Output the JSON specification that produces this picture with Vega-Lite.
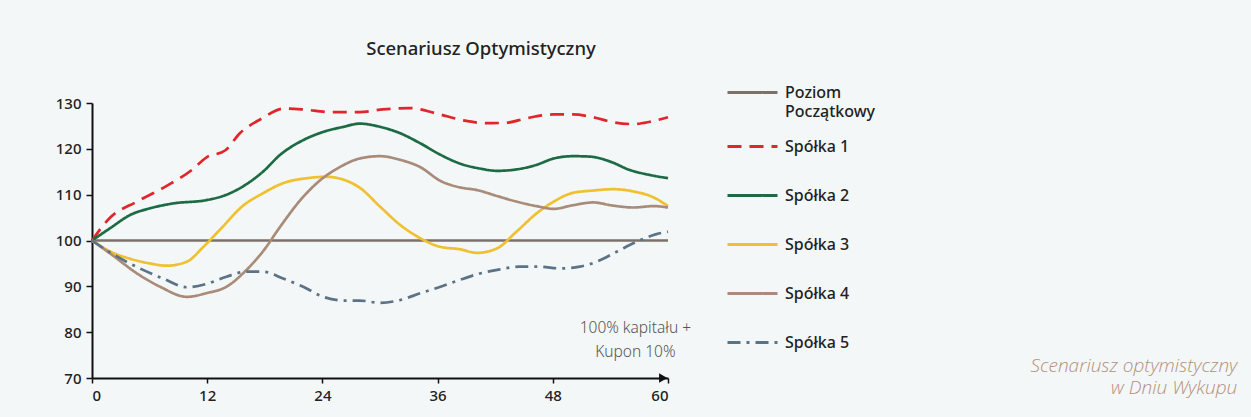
{
  "$schema": "https://vega.github.io/schema/vega-lite/v6.json",
  "width": 576,
  "height": 275,
  "autosize": {"type": "none"},
  "padding": {"left": 92, "top": 103, "right": 583, "bottom": 39},
  "background": "#f3f7f7",
  "config": {"view": {"stroke": null}, "font": "Noto Sans"},
  "title": {"text": "Scenariusz Optymistyczny", "fontSize": 18.5, "fontWeight": 500, "color": "#222", "font": "Noto Sans", "anchor": "middle", "dx": 101, "offset": 8},
  "datasets": {
    "series": [
      {"s":"Poziom Początkowy","m":0,"v":100},{"s":"Poziom Początkowy","m":60,"v":100},
      {"s":"Spółka 1","m":0,"v":100},{"s":"Spółka 1","m":1.9,"v":105},{"s":"Spółka 1","m":4.7,"v":108.5},{"s":"Spółka 1","m":7.6,"v":111.7},{"s":"Spółka 1","m":10.4,"v":115.4},{"s":"Spółka 1","m":11.9,"v":118.1},{"s":"Spółka 1","m":13.9,"v":119.7},{"s":"Spółka 1","m":15.4,"v":123.4},{"s":"Spółka 1","m":17.5,"v":126.4},{"s":"Spółka 1","m":20.1,"v":128.8},{"s":"Spółka 1","m":22,"v":128.6},{"s":"Spółka 1","m":24.8,"v":128},{"s":"Spółka 1","m":27.9,"v":128},{"s":"Spółka 1","m":30.3,"v":128.6},{"s":"Spółka 1","m":33.1,"v":128.9},{"s":"Spółka 1","m":35.9,"v":127.7},{"s":"Spółka 1","m":38.7,"v":126.2},{"s":"Spółka 1","m":41.1,"v":125.6},{"s":"Spółka 1","m":43.2,"v":125.7},{"s":"Spółka 1","m":45.3,"v":126.7},{"s":"Spółka 1","m":48.1,"v":127.5},{"s":"Spółka 1","m":50.1,"v":127.5},{"s":"Spółka 1","m":52.2,"v":126.9},{"s":"Spółka 1","m":54.3,"v":125.8},{"s":"Spółka 1","m":56.4,"v":125.4},{"s":"Spółka 1","m":58.1,"v":125.9},{"s":"Spółka 1","m":60,"v":126.9},
      {"s":"Spółka 2","m":0,"v":100},{"s":"Spółka 2","m":1.9,"v":102.7},{"s":"Spółka 2","m":4,"v":105.6},{"s":"Spółka 2","m":6,"v":107},{"s":"Spółka 2","m":8.5,"v":108.1},{"s":"Spółka 2","m":11.9,"v":108.8},{"s":"Spółka 2","m":13.9,"v":109.9},{"s":"Spółka 2","m":15.8,"v":111.9},{"s":"Spółka 2","m":17.8,"v":115},{"s":"Spółka 2","m":19.6,"v":118.7},{"s":"Spółka 2","m":22,"v":121.9},{"s":"Spółka 2","m":24.1,"v":123.7},{"s":"Spółka 2","m":26.2,"v":124.8},{"s":"Spółka 2","m":27.9,"v":125.5},{"s":"Spółka 2","m":30,"v":124.8},{"s":"Spółka 2","m":32.1,"v":123.4},{"s":"Spółka 2","m":34.2,"v":121.2},{"s":"Spółka 2","m":36.3,"v":118.7},{"s":"Spółka 2","m":38.3,"v":116.8},{"s":"Spółka 2","m":40.4,"v":115.7},{"s":"Spółka 2","m":42.2,"v":115.2},{"s":"Spółka 2","m":44.2,"v":115.5},{"s":"Spółka 2","m":46.3,"v":116.5},{"s":"Spółka 2","m":48.1,"v":117.9},{"s":"Spółka 2","m":50.1,"v":118.4},{"s":"Spółka 2","m":51.9,"v":118.3},{"s":"Spółka 2","m":54,"v":117.2},{"s":"Spółka 2","m":56,"v":115.4},{"s":"Spółka 2","m":58.1,"v":114.3},{"s":"Spółka 2","m":60,"v":113.6},
      {"s":"Spółka 3","m":0,"v":100},{"s":"Spółka 3","m":1.9,"v":97.6},{"s":"Spółka 3","m":4,"v":96},{"s":"Spółka 3","m":6,"v":95},{"s":"Spółka 3","m":7.8,"v":94.5},{"s":"Spółka 3","m":9.9,"v":95.4},{"s":"Spółka 3","m":11.6,"v":98.6},{"s":"Spółka 3","m":13.3,"v":102.3},{"s":"Spółka 3","m":15.8,"v":107.7},{"s":"Spółka 3","m":17.8,"v":110.3},{"s":"Spółka 3","m":19.9,"v":112.5},{"s":"Spółka 3","m":22.4,"v":113.6},{"s":"Spółka 3","m":24.4,"v":113.9},{"s":"Spółka 3","m":26,"v":113.4},{"s":"Spółka 3","m":27.9,"v":111.5},{"s":"Spółka 3","m":30,"v":107.4},{"s":"Spółka 3","m":32.1,"v":103.4},{"s":"Spółka 3","m":34.2,"v":100.5},{"s":"Spółka 3","m":36.3,"v":98.6},{"s":"Spółka 3","m":38.3,"v":98.1},{"s":"Spółka 3","m":40.1,"v":97.3},{"s":"Spółka 3","m":42.2,"v":98.3},{"s":"Spółka 3","m":44.2,"v":101.9},{"s":"Spółka 3","m":46.3,"v":105.9},{"s":"Spółka 3","m":48.1,"v":108.5},{"s":"Spółka 3","m":50.1,"v":110.4},{"s":"Spółka 3","m":52.2,"v":110.9},{"s":"Spółka 3","m":54.3,"v":111.2},{"s":"Spółka 3","m":56.4,"v":110.7},{"s":"Spółka 3","m":58.5,"v":109.4},{"s":"Spółka 3","m":60,"v":107.5},
      {"s":"Spółka 4","m":0,"v":100},{"s":"Spółka 4","m":2,"v":97},{"s":"Spółka 4","m":4.7,"v":92.8},{"s":"Spółka 4","m":7.1,"v":89.9},{"s":"Spółka 4","m":9.9,"v":87.7},{"s":"Spółka 4","m":11.9,"v":88.5},{"s":"Spółka 4","m":14,"v":89.9},{"s":"Spółka 4","m":16.1,"v":93.6},{"s":"Spółka 4","m":17.8,"v":97.6},{"s":"Spółka 4","m":19.6,"v":103},{"s":"Spółka 4","m":21.7,"v":108.8},{"s":"Spółka 4","m":23.8,"v":113.2},{"s":"Spółka 4","m":25.8,"v":116},{"s":"Spółka 4","m":27.9,"v":117.9},{"s":"Spółka 4","m":30,"v":118.4},{"s":"Spółka 4","m":32.1,"v":117.6},{"s":"Spółka 4","m":34.2,"v":116},{"s":"Spółka 4","m":36.3,"v":113},{"s":"Spółka 4","m":38.3,"v":111.6},{"s":"Spółka 4","m":40.1,"v":111},{"s":"Spółka 4","m":42.2,"v":109.7},{"s":"Spółka 4","m":44.2,"v":108.5},{"s":"Spółka 4","m":46.3,"v":107.5},{"s":"Spółka 4","m":48.1,"v":106.9},{"s":"Spółka 4","m":50.1,"v":107.7},{"s":"Spółka 4","m":52.2,"v":108.3},{"s":"Spółka 4","m":54.3,"v":107.6},{"s":"Spółka 4","m":56.4,"v":107.2},{"s":"Spółka 4","m":58.5,"v":107.5},{"s":"Spółka 4","m":60,"v":107.2},
      {"s":"Spółka 5","m":0,"v":100},{"s":"Spółka 5","m":2.2,"v":97},{"s":"Spółka 5","m":5,"v":93.9},{"s":"Spółka 5","m":7.4,"v":91.7},{"s":"Spółka 5","m":9.9,"v":89.8},{"s":"Spółka 5","m":11.9,"v":90.5},{"s":"Spółka 5","m":14,"v":92.1},{"s":"Spółka 5","m":16.1,"v":93.2},{"s":"Spółka 5","m":17.8,"v":93.2},{"s":"Spółka 5","m":19.9,"v":91.7},{"s":"Spółka 5","m":22,"v":89.9},{"s":"Spółka 5","m":24.1,"v":87.7},{"s":"Spółka 5","m":26.2,"v":86.9},{"s":"Spółka 5","m":27.9,"v":86.9},{"s":"Spółka 5","m":30,"v":86.4},{"s":"Spółka 5","m":32.1,"v":87},{"s":"Spółka 5","m":34.2,"v":88.5},{"s":"Spółka 5","m":36.3,"v":89.9},{"s":"Spółka 5","m":38.3,"v":91.4},{"s":"Spółka 5","m":40.4,"v":92.8},{"s":"Spółka 5","m":42.5,"v":93.7},{"s":"Spółka 5","m":44.5,"v":94.3},{"s":"Spółka 5","m":46.6,"v":94.3},{"s":"Spółka 5","m":48.8,"v":93.9},{"s":"Spółka 5","m":50.8,"v":94.3},{"s":"Spółka 5","m":52.6,"v":95.4},{"s":"Spółka 5","m":54.7,"v":97.6},{"s":"Spółka 5","m":56.7,"v":99.7},{"s":"Spółka 5","m":58.8,"v":101.4},{"s":"Spółka 5","m":60,"v":101.9}
    ],
    "note": [{"m": 56.6, "v": 80.9, "t": "100% kapitału +\nKupon 10%"}],
    "caption": [{"m": 119.3, "v": 72.6, "t": "Scenariusz optymistyczny\nw Dniu Wykupu"}],
    "arrow": [{"m": 59.5, "v": 70}]
  },
  "layer": [
    {
      "data": {"name": "series"},
      "mark": {"type": "line", "strokeWidth": 2.7, "interpolate": "monotone"},
      "encoding": {
        "x": {"field": "m", "type": "quantitative", "scale": {"domain": [0, 60], "nice": false},
          "axis": {"values": [0, 12, 24, 36, 48, 60], "title": null, "grid": false, "domainColor": "#111", "domainWidth": 2, "tickColor": "#111", "tickWidth": 1.5, "tickSize": 5, "labelFontSize": 15, "labelFontWeight": 500, "labelColor": "#222", "labelPadding": 5, "labelFont": "Noto Sans"}},
        "y": {"field": "v", "type": "quantitative", "scale": {"domain": [70, 130], "nice": false, "zero": false},
          "axis": {"values": [70, 80, 90, 100, 110, 120, 130], "title": null, "grid": false, "domainColor": "#111", "domainWidth": 2, "tickColor": "#111", "tickWidth": 1.5, "tickSize": 6, "labelFontSize": 15, "labelFontWeight": 500, "labelColor": "#222", "labelPadding": 5, "labelFont": "Noto Sans"}},
        "color": {"field": "s", "type": "nominal",
          "scale": {"domain": ["Poziom Początkowy", "Spółka 1", "Spółka 2", "Spółka 3", "Spółka 4", "Spółka 5"],
                    "range": ["#7b716a", "#e0262b", "#1d6b45", "#f0c030", "#a88b78", "#5b7386"]},
          "legend": {"orient": "none", "legendX": 634, "legendY": -37, "title": null, "symbolType": "stroke", "symbolSize": 2500, "symbolStrokeWidth": 3, "labelFontSize": 16, "labelFontWeight": 500, "labelColor": "#222", "labelFont": "Noto Sans", "labelOffset": 6, "rowPadding": 0, "labelLimit": 300,
            "labelExpr": "datum.label == 'Poziom Początkowy' ? ['Poziom', 'Początkowy'] : [datum.label, ' ']",
            "encode": {"labels": {"update": {"lineHeight": {"signal": "datum.value == 'Poziom Początkowy' ? 19 : 14"}}}}}},
        "strokeDash": {"field": "s", "type": "nominal",
          "scale": {"domain": ["Poziom Początkowy", "Spółka 1", "Spółka 2", "Spółka 3", "Spółka 4", "Spółka 5"],
                    "range": [[1, 0], [14, 8], [1, 0], [1, 0], [1, 0], [13, 6, 3, 6]]},
          "legend": null}
      }
    },
    {
      "data": {"name": "arrow"},
      "mark": {"type": "point", "shape": "triangle-right", "filled": true, "color": "#111", "size": 90, "opacity": 1},
      "encoding": {"x": {"field": "m", "type": "quantitative"}, "y": {"field": "v", "type": "quantitative"}}
    },
    {
      "data": {"name": "note"},
      "mark": {"type": "text", "lineBreak": "\n", "align": "center", "baseline": "middle", "fontSize": 15.5, "color": "#555", "font": "Noto Sans", "fontWeight": 300, "lineHeight": 24},
      "encoding": {"x": {"field": "m", "type": "quantitative"}, "y": {"field": "v", "type": "quantitative"}, "text": {"field": "t"}}
    },
    {
      "data": {"name": "caption"},
      "mark": {"type": "text", "lineBreak": "\n", "align": "right", "baseline": "middle", "fontSize": 19, "color": "#b5907c", "font": "Open Sans", "fontStyle": "italic", "fontWeight": 300, "lineHeight": 22},
      "encoding": {"x": {"field": "m", "type": "quantitative"}, "y": {"field": "v", "type": "quantitative"}, "text": {"field": "t"}}
    }
  ]
}
